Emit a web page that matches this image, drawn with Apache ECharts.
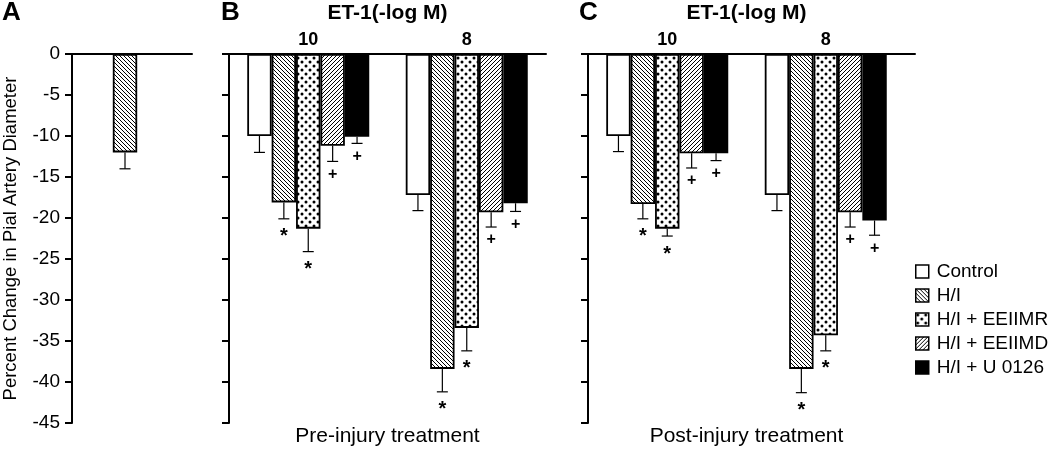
<!DOCTYPE html>
<html>
<head>
<meta charset="utf-8">
<script src="https://cdn.jsdelivr.net/npm/echarts@6/dist/echarts.min.js"></script>
<style>html,body{margin:0;padding:0;background:#fff}#c{width:1050px;height:466px}</style>
</head>
<body>
<div id="c"></div>
<script>
// ---------------- data ----------------
const categories = ['10', '8'];
const seriesNames = ['Control', 'H/I', 'H/I + EEIIMR', 'H/I + EEIIMD', 'H/I + U 0126'];
const yMin = -45, yMax = 0, yStep = 5;

// Panel A (H/I alone)
const aCategory = ['H/I'];
const aMean = [-12.0];
const aErr = [2.0];

// Panel B: pre-injury treatment (values at ET-1 10, 8)
const preControl = [-10.0, -17.2];
const preControlErr = [2.0, 1.9];
const preHI = [-18.1, -38.4];
const preHIErr = [2.0, 2.8];
const preMR = [-21.3, -33.4];
const preMRErr = [2.8, 2.8];
const preMD = [-11.2, -19.3];
const preMDErr = [1.9, 1.8];
const preU = [-10.1, -18.2];
const preUErr = [0.8, 1.0];
const preMarks = [['', ''], ['*', '*'], ['*', '*'], ['+', '+'], ['+', '+']];

// Panel C: post-injury treatment
const postControl = [-10.0, -17.2];
const postControlErr = [1.9, 1.9];
const postHI = [-18.3, -38.4];
const postHIErr = [1.8, 2.9];
const postMR = [-21.3, -34.3];
const postMRErr = [0.9, 1.9];
const postMD = [-12.1, -19.3];
const postMDErr = [1.8, 1.8];
const postU = [-12.1, -20.3];
const postUErr = [0.9, 1.8];
const postMarks = [['', ''], ['*', '*'], ['*', '*'], ['+', '+'], ['+', '+']];

// ---------------- styling ----------------
const FONT = 'Liberation Sans, Arial, sans-serif';
const BAR_W = 24.4;
const TOP = 54, H = 369;

function makeCanvas(w, h, draw) {
  const c = document.createElement('canvas');
  c.width = w; c.height = h;
  const ctx = c.getContext('2d');
  ctx.fillStyle = '#fff'; ctx.fillRect(0, 0, w, h);
  draw(ctx);
  return c;
}
const hatchBack = makeCanvas(4, 4, ctx => {   // "\\\"
  ctx.strokeStyle = '#000'; ctx.lineWidth = 1;
  for (let k = -1; k <= 1; k++) {
    ctx.beginPath(); ctx.moveTo(k * 4, 0); ctx.lineTo(k * 4 + 4, 4); ctx.stroke();
  }
});
const hatchFwd = makeCanvas(4, 4, ctx => {    // "///"
  ctx.strokeStyle = '#000'; ctx.lineWidth = 1;
  for (let k = -1; k <= 1; k++) {
    ctx.beginPath(); ctx.moveTo(k * 4, 4); ctx.lineTo(k * 4 + 4, 0); ctx.stroke();
  }
});
const dots = makeCanvas(8, 8, ctx => {
  ctx.fillStyle = '#000';
  [[2, 2], [6, 6]].forEach(p => { ctx.beginPath(); ctx.arc(p[0], p[1], 1.5, 0, Math.PI * 2); ctx.fill(); });
});
const fills = [
  '#ffffff',
  { image: hatchBack, repeat: 'repeat' },
  { image: dots, repeat: 'repeat' },
  { image: hatchFwd, repeat: 'repeat' },
  '#000000'
];

function barSeries(idx, name, data, k) {
  return {
    type: 'bar', name: name, xAxisIndex: idx, yAxisIndex: idx,
    data: data, barWidth: BAR_W, barGap: '0%', z: 2,
    itemStyle: { color: fills[k], borderColor: '#000', borderWidth: 1.8 },
    emphasis: { disabled: true }
  };
}

function errSeries(idx, means, errs, marks, k, n) {
  return {
    type: 'custom', xAxisIndex: idx, yAxisIndex: idx, z: 3, silent: true,
    data: means.map((m, i) => [i, m, m - errs[i]]),
    renderItem: function (params, api) {
      const i = api.value(0);
      const top = api.coord([i, api.value(1)]);
      const bot = api.coord([i, api.value(2)]);
      const x = top[0] + (k - (n - 1) / 2) * BAR_W;
      const mark = marks ? marks[params.dataIndex] : '';
      const children = [
        { type: 'line', shape: { x1: x, y1: top[1], x2: x, y2: bot[1] }, style: { stroke: '#000', lineWidth: 1.2 } },
        { type: 'line', shape: { x1: x - 5.5, y1: bot[1], x2: x + 5.5, y2: bot[1] }, style: { stroke: '#000', lineWidth: 1.2 } }
      ];
      if (mark) {
        const star = mark === '*';
        children.push({
          type: 'text', x: x, y: bot[1] + (star ? 18 : 13),
          style: { text: mark, fill: '#000', fontSize: star ? 20 : 16, fontWeight: 'bold', fontFamily: FONT, align: 'center', verticalAlign: 'middle' }
        });
      }
      return { type: 'group', children: children };
    }
  };
}

const lineStyle = { color: '#000', width: 2 };
function xAxisDef(gridIndex, data, showLabel) {
  return {
    type: 'category', gridIndex: gridIndex, data: data, position: 'top',
    axisLine: { show: true, onZero: false, lineStyle: lineStyle },
    axisTick: { show: false },
    axisLabel: { show: showLabel, color: '#000', fontFamily: FONT, fontSize: 18, fontWeight: 'bold', margin: 5 },
    splitLine: { show: false }
  };
}
function yAxisDef(gridIndex, showLabel, visible) {
  return {
    type: 'value', gridIndex: gridIndex, min: yMin, max: yMax, interval: yStep, show: visible,
    axisLine: { show: true, lineStyle: lineStyle },
    axisTick: { show: true, length: 7, lineStyle: lineStyle },
    axisLabel: { show: showLabel, color: '#000', fontFamily: FONT, fontSize: 19, margin: 12 },
    splitLine: { show: false }
  };
}

const preMeans = [preControl, preHI, preMR, preMD, preU];
const preErrs = [preControlErr, preHIErr, preMRErr, preMDErr, preUErr];
const postMeans = [postControl, postHI, postMR, postMD, postU];
const postErrs = [postControlErr, postHIErr, postMRErr, postMDErr, postUErr];

const series = [];
series.push(barSeries(0, seriesNames[1], aMean, 1));
series.push(errSeries(0, aMean, aErr, null, 0, 1));
seriesNames.forEach((nm, k) => {
  series.push(barSeries(2, nm, preMeans[k], k));
  series.push(errSeries(2, preMeans[k], preErrs[k], preMarks[k], k, 5));
});
seriesNames.forEach((nm, k) => {
  series.push(barSeries(3, nm, postMeans[k], k));
  series.push(errSeries(3, postMeans[k], postErrs[k], postMarks[k], k, 5));
});

const yA = yAxisDef(0, true, true);
yA.name = 'Percent Change in Pial Artery Diameter';
yA.nameLocation = 'middle';
yA.nameRotate = 90;
yA.nameGap = 52;
yA.nameTextStyle = { color: '#000', fontFamily: FONT, fontSize: 18.5 };

const titleStyle = (size, bold) => ({ color: '#000', fontFamily: FONT, fontSize: size, fontWeight: bold ? 'bold' : 'normal' });

const option = {
  backgroundColor: '#fff',
  animation: false,
  title: [
    { text: 'A', left: 2, top: 0, padding: 0, textStyle: titleStyle(26, true) },
    { text: 'B', left: 221, top: 0, padding: 0, textStyle: titleStyle(26, true) },
    { text: 'C', left: 579, top: 0, padding: 0, textStyle: titleStyle(26, true) },
    { text: 'ET-1(-log M)', left: 387.5, top: 3, padding: 0, textAlign: 'center', textStyle: titleStyle(21, true) },
    { text: 'ET-1(-log M)', left: 746.5, top: 3, padding: 0, textAlign: 'center', textStyle: titleStyle(21, true) },
    { text: 'Pre-injury treatment', left: 387.5, top: 426, padding: 0, textAlign: 'center', textStyle: titleStyle(21, false) },
    { text: 'Post-injury treatment', left: 746.5, top: 426, padding: 0, textAlign: 'center', textStyle: titleStyle(21, false) }
  ],
  legend: {
    data: seriesNames, orient: 'vertical', left: 915, top: 262, padding: 0,
    icon: 'rect', itemWidth: 13, itemHeight: 13, itemGap: 5,
    selectedMode: false,
    itemStyle: { borderColor: '#000', borderWidth: 1.5 },
    textStyle: { color: '#000', fontFamily: FONT, fontSize: 19, lineHeight: 19, padding: [0, 0, 0, 3] }
  },
  grid: [
    { left: 71, top: TOP, width: 107, height: H },
    { left: 71, top: TOP, width: 121, height: H },
    { left: 229, top: TOP, width: 317, height: H },
    { left: 588, top: TOP, width: 317, height: H },
    { left: 588, top: TOP, width: 327, height: H }
  ],
  xAxis: [
    xAxisDef(0, aCategory, false),
    xAxisDef(1, [''], false),
    xAxisDef(2, categories, true),
    xAxisDef(3, categories, true),
    xAxisDef(4, [''], false)
  ],
  yAxis: [
    yA,
    yAxisDef(1, false, false),
    yAxisDef(2, false, true),
    yAxisDef(3, false, true),
    yAxisDef(4, false, false)
  ],
  series: series
};

const chart = echarts.init(document.getElementById('c'), null, { renderer: 'canvas' });
chart.setOption(option);
</script>
</body>
</html>
